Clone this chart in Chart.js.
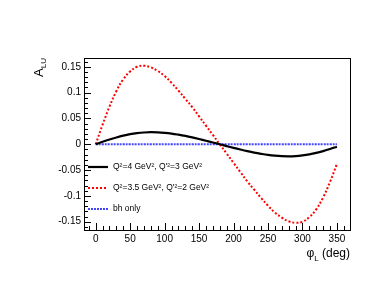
<!DOCTYPE html>
<html>
<head>
<meta charset="utf-8">
<script src="https://cdn.jsdelivr.net/npm/chart.js@4"></script>
<style>
  html, body { margin: 0; padding: 0; background: #fff; }
  #wrap { width: 381px; height: 295px; }
</style>
</head>
<body>
<div id="wrap"><canvas id="chart" width="381" height="295"></canvas></div>
<script>
// phi_L in degrees
const phi = [0, 10, 20, 30, 40, 50, 60, 70, 80, 90, 100, 110, 120, 130, 140, 150, 160, 170, 180,
  190, 200, 210, 220, 230, 240, 250, 260, 270, 280, 290, 300, 310, 320, 330, 340, 350];

const aluQ4 = [0, 0.0047, 0.0092, 0.0132, 0.0167, 0.0195, 0.0215, 0.0228, 0.0233, 0.023, 0.0221, 0.0206,
  0.0185, 0.0161, 0.0133, 0.0102, 0.0069, 0.0035, 0, -0.0035, -0.0069, -0.0102, -0.0133, -0.0161,
  -0.0185, -0.0206, -0.0221, -0.023, -0.0233, -0.0228, -0.0215, -0.0195, -0.0167, -0.0132, -0.0092, -0.0047];

const aluQ35 = [0, 0.038, 0.073, 0.103, 0.126, 0.141, 0.150, 0.152, 0.149, 0.142, 0.132, 0.119,
  0.104, 0.088, 0.072, 0.054, 0.036, 0.018, 0, -0.018, -0.036, -0.054, -0.072, -0.088,
  -0.104, -0.119, -0.132, -0.142, -0.149, -0.152, -0.150, -0.141, -0.126, -0.103, -0.073, -0.038];

const aluBh = phi.map(() => 0);

const xTicks = [0, 50, 100, 150, 200, 250, 300, 350];
const yTicks = [-0.15, -0.1, -0.05, 0, 0.05, 0.1, 0.15];

const legendLabels = ["Q\u00b2=4 GeV\u00b2, Q'\u00b2=3 GeV\u00b2", "Q\u00b2=3.5 GeV\u00b2, Q'\u00b2=2 GeV\u00b2", "bh only"];

const FONT = "'Liberation Sans', Arial, sans-serif";

function pts(ys) {
  return phi.map((p, i) => ({ x: p, y: ys[i] }));
}

const styles = [
  { color: "#000000", dash: [], width: 2.2 },
  { color: "#ff0000", dash: [2, 2], width: 2 },
  { color: "#4646ff", dash: [2, 1], width: 2 }
];

// ROOT-like frame, ticks, legend and axis titles
const rootStyle = {
  id: "rootStyle",
  afterDraw(chart) {
    const ctx = chart.ctx;
    const a = chart.chartArea;
    const xs = chart.scales.x, ys = chart.scales.y;
    ctx.save();
    ctx.strokeStyle = "#000";
    ctx.lineWidth = 1;
    ctx.strokeRect(a.left + 0.5, a.top + 0.5, a.right - a.left, a.bottom - a.top);

    ctx.beginPath();
    for (let v = -10; v <= 360; v += 10) {
      const px = Math.round(xs.getPixelForValue(v)) + 0.5;
      if (px < a.left || px > a.right) continue;
      const len = (v % 50 === 0) ? 7 : 4;
      ctx.moveTo(px, a.bottom);
      ctx.lineTo(px, a.bottom - len);
    }
    for (let k = -16; k <= 16; k++) {
      const v = k / 100;
      const py = Math.round(ys.getPixelForValue(v)) + 0.5;
      if (py < a.top || py > a.bottom) continue;
      const len = (k % 5 === 0) ? 7 : 4;
      ctx.moveTo(a.left, py);
      ctx.lineTo(a.left + len, py);
    }
    ctx.stroke();

    // legend
    const ly = [167, 188, 209];
    ctx.font = "8.5px " + FONT;
    ctx.textBaseline = "middle";
    ctx.fillStyle = "#000";
    legendLabels.forEach((t, i) => {
      const s = styles[i];
      ctx.beginPath();
      ctx.strokeStyle = s.color;
      ctx.lineWidth = s.width;
      ctx.setLineDash(s.dash);
      ctx.moveTo(88, ly[i]);
      ctx.lineTo(108, ly[i]);
      ctx.stroke();
      ctx.setLineDash([]);
      ctx.fillText(t, 113, ly[i]);
    });

    // x title
    ctx.fillStyle = "#000";
    ctx.textBaseline = "alphabetic";
    const t1 = "\u03c6", t3 = " (deg)";
    ctx.font = "8px " + FONT;
    const wSub = ctx.measureText("L").width;
    ctx.font = "12px " + FONT;
    const w1 = ctx.measureText(t1).width, w3 = ctx.measureText(t3).width;
    let x0 = 350 - (w1 + wSub + w3);
    ctx.fillText(t1, x0, 257);
    ctx.font = "8px " + FONT;
    ctx.fillText("L", x0 + w1, 261);
    ctx.font = "12px " + FONT;
    ctx.fillText(t3, x0 + w1 + wSub, 257);

    // y title
    ctx.translate(43, 58);
    ctx.rotate(-Math.PI / 2);
    ctx.font = "8px " + FONT;
    const wLU = ctx.measureText("LU").width;
    ctx.font = "13px " + FONT;
    const wA = ctx.measureText("A").width;
    ctx.fillText("A", -(wA + wLU), 0);
    ctx.font = "8px " + FONT;
    ctx.fillText("LU", -wLU, 3);
    ctx.restore();
  }
};

const ctx = document.getElementById("chart").getContext("2d");
new Chart(ctx, {
  type: "line",
  data: {
    datasets: [aluQ4, aluQ35, aluBh].map((d, i) => ({
      label: legendLabels[i],
      data: pts(d),
      borderColor: styles[i].color,
      borderWidth: styles[i].width,
      borderDash: styles[i].dash,
      pointRadius: 0,
      tension: 0.4,
      fill: false
    }))
  },
  options: {
    responsive: false,
    animation: false,
    layout: { padding: { top: 58, right: 31, left: 0, bottom: 0 } },
    plugins: { legend: { display: false }, tooltip: { enabled: false } },
    scales: {
      x: {
        type: "linear",
        min: -17,
        max: 369,
        afterBuildTicks: s => { s.ticks = xTicks.map(v => ({ value: v })); },
        afterFit: s => { s.height = 65; },
        grid: { display: false, drawTicks: false },
        border: { display: false },
        ticks: { color: "#000", font: { family: FONT, size: 10 }, padding: 3, maxRotation: 0 }
      },
      y: {
        type: "linear",
        min: -0.166,
        max: 0.167,
        afterBuildTicks: s => { s.ticks = yTicks.map(v => ({ value: v })); },
        afterFit: s => { s.width = 84; },
        grid: { display: false, drawTicks: false },
        border: { display: false },
        ticks: { color: "#000", font: { family: FONT, size: 10 }, padding: 3, callback: v => String(v) }
      }
    }
  },
  plugins: [rootStyle]
});
</script>
</body>
</html>
